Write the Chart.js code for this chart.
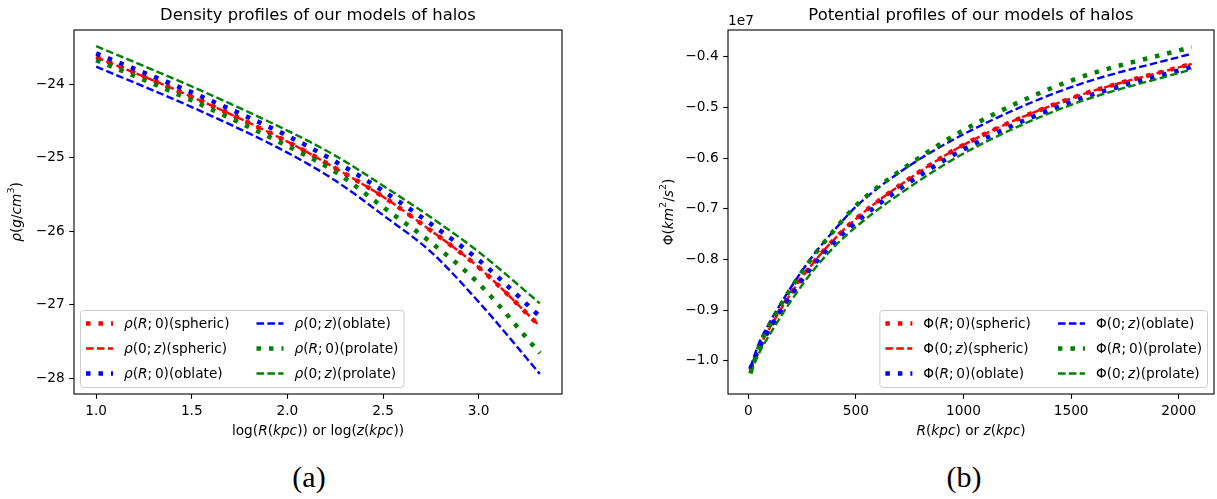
<!DOCTYPE html>
<html>
<head>
<meta charset="utf-8">
<script src="https://cdn.jsdelivr.net/npm/chart.js@4.4.1/dist/chart.umd.min.js"></script>
<style>
  body { margin: 0; width: 1217px; height: 499px; overflow: hidden; background: #fff; position: relative; }
  canvas { position: absolute; top: 0; }
  #densityChart { left: 0; }
  #potentialChart { left: 617px; }
  .sub { position: absolute; top: 460px; font-family: "Liberation Serif", serif; font-size: 30px; color: #000; transform: translateX(-50%); }
</style>
</head>
<body>
<canvas id="densityChart" width="600" height="450"></canvas>
<canvas id="potentialChart" width="600" height="450"></canvas>
<div class="sub" style="left:309px">(a)</div>
<div class="sub" style="left:964px">(b)</div>
<script>
// (a) density, x = log10(r / kpc)
var logR = [1.0, 1.5, 2.0, 2.25, 2.5, 2.75, 3.0, 3.32];
var rhoSpheric  = [-23.63, -24.17, -24.78, -25.14, -25.53, -25.99, -26.49, -27.29];
var rhoOblateR  = [-23.58, -24.11, -24.70, -25.05, -25.45, -25.90, -26.39, -27.16];
var rhoOblateZ  = [-23.76, -24.31, -24.93, -25.31, -25.78, -26.28, -26.96, -27.94];
var rhoProlateR = [-23.67, -24.22, -24.84, -25.19, -25.67, -26.15, -26.71, -27.66];
var rhoProlateZ = [-23.48, -24.03, -24.63, -24.97, -25.38, -25.81, -26.28, -26.98];

// (b) potential, x = r in kpc, values in units of 1e7 km^2/s^2
var radius = [10, 50, 100, 200, 300, 400, 500, 700, 1000, 1500, 2060];
var phiSpheric  = [-1.018, -0.975, -0.935, -0.866, -0.808, -0.760, -0.720, -0.655, -0.574, -0.482, -0.414];
var phiOblateR  = [-1.016, -0.975, -0.937, -0.870, -0.813, -0.766, -0.727, -0.662, -0.583, -0.489, -0.420];
var phiOblateZ  = [-1.013, -0.965, -0.924, -0.854, -0.793, -0.742, -0.696, -0.629, -0.553, -0.460, -0.394];
var phiProlateR = [-1.025, -0.972, -0.928, -0.856, -0.795, -0.742, -0.694, -0.627, -0.545, -0.447, -0.381];
var phiProlateZ = [-1.025, -0.985, -0.948, -0.881, -0.823, -0.775, -0.736, -0.672, -0.591, -0.495, -0.425];

var densityTicksX = [1.0, 1.5, 2.0, 2.5, 3.0];
var densityTicksY = [-28, -27, -26, -25, -24];
var potentialTicksX = [0, 500, 1000, 1500, 2000];
var potentialTicksY = [-1.0, -0.9, -0.8, -0.7, -0.6, -0.5, -0.4];

// _text_ marks italic (math) parts, ^x raises the next character
var densityLabels = ['_ρ_(_R_;\u20090)(spheric)', '_ρ_(0;\u2009_z_)(spheric)', '_ρ_(_R_;\u20090)(oblate)',
                     '_ρ_(0;\u2009_z_)(oblate)', '_ρ_(_R_;\u20090)(prolate)', '_ρ_(0;\u2009_z_)(prolate)'];
var potentialLabels = ['Φ(_R_;\u20090)(spheric)', 'Φ(0;\u2009_z_)(spheric)', 'Φ(_R_;\u20090)(oblate)',
                       'Φ(0;\u2009_z_)(oblate)', 'Φ(_R_;\u20090)(prolate)', 'Φ(0;\u2009_z_)(prolate)'];
var seriesColors = ['#ff0000', '#ff0000', '#0000ff', '#0000ff', '#008000', '#008000'];
var seriesStyles = ['dotted', 'dashed', 'dotted', 'dashed', 'dotted', 'dashed'];

var FONT = '"DejaVu Sans"';
var FS = 13.7;
Chart.defaults.font.family = 'DejaVu Sans';

function richParts(s) {
  var parts = [], it = false, sup = false, buf = '';
  function push() { if (buf) { parts.push({t: buf, it: it, sup: sup}); } buf = ''; }
  for (var i = 0; i < s.length; i++) {
    var c = s[i];
    if (c === '_') { push(); it = !it; }
    else if (c === '^') { push(); sup = true; buf = s[++i]; push(); sup = false; }
    else { buf += c; }
  }
  push();
  return parts;
}
function setFont(ctx, p, size) {
  ctx.font = (p.it ? 'italic ' : '') + (p.sup ? size * 0.7 : size) + 'px ' + FONT;
}
function richWidth(ctx, s, size) {
  var w = 0;
  richParts(s).forEach(function(p) { setFont(ctx, p, size); w += ctx.measureText(p.t).width; });
  return w;
}
function drawRich(ctx, s, x, y, size) {
  ctx.textAlign = 'left';
  richParts(s).forEach(function(p) {
    setFont(ctx, p, size);
    ctx.fillText(p.t, x, p.sup ? y - size * 0.38 : y);
    x += ctx.measureText(p.t).width;
  });
}

function drawLegend(chart, side) {
  var ctx = chart.ctx, a = chart.chartArea;
  var sets = chart.data.datasets;
  var cols = [sets.slice(0, 3), sets.slice(3)];
  var colW = cols.map(function(c) {
    return Math.max.apply(null, c.map(function(d) { return richWidth(ctx, d.label, FS); }));
  });
  var handle = 27, hpad = 11, gap = 27, pad = 5.5;
  var boxW = pad * 2 + handle * 2 + hpad * 2 + colW[0] + colW[1] + gap;
  var boxH = 77;
  var x0 = side === 'left' ? a.left + 6.5 : a.right - 6.5 - boxW;
  var y0 = a.bottom - 6.5 - boxH;
  ctx.beginPath();
  ctx.roundRect(x0, y0, boxW, boxH, 3);
  ctx.fillStyle = 'rgba(255,255,255,0.8)';
  ctx.fill();
  ctx.strokeStyle = '#cccccc';
  ctx.lineWidth = 1;
  ctx.stroke();
  var cx = x0 + pad;
  cols.forEach(function(c, ci) {
    c.forEach(function(d, ri) {
      var y = y0 + 13 + ri * 25;
      ctx.save();
      ctx.strokeStyle = d.borderColor;
      ctx.lineWidth = d.borderWidth;
      ctx.lineCap = 'butt';
      ctx.setLineDash(d.borderDash);
      ctx.beginPath();
      ctx.moveTo(cx, y);
      ctx.lineTo(cx + handle, y);
      ctx.stroke();
      ctx.restore();
      ctx.fillStyle = '#000';
      ctx.textBaseline = 'middle';
      drawRich(ctx, d.label, cx + handle + hpad, y + 1, FS);
    });
    cx += handle + hpad + colW[ci] + gap;
  });
}

var panelPlugin = {
  id: 'panel',
  afterDraw: function(chart) {
    var o = chart.options.plugins.panel;
    var ctx = chart.ctx, a = chart.chartArea;
    ctx.save();
    ctx.strokeStyle = '#000';
    ctx.lineWidth = 1.1;
    ctx.strokeRect(a.left, a.top, a.right - a.left, a.bottom - a.top);

    ctx.fillStyle = '#000';
    ctx.textBaseline = 'alphabetic';
    ctx.font = '16.4px ' + FONT;
    ctx.textAlign = 'center';
    ctx.fillText(o.title, (a.left + a.right) / 2, a.top - 10);

    if (o.offsetText) {
      ctx.font = FS + 'px ' + FONT;
      ctx.textAlign = 'left';
      ctx.fillText(o.offsetText, a.left, a.top - 5);
    }

    var w = richWidth(ctx, o.xTitle, FS);
    drawRich(ctx, o.xTitle, (a.left + a.right) / 2 - w / 2, 435, FS);

    ctx.save();
    ctx.translate(o.yTitleX, (a.top + a.bottom) / 2);
    ctx.rotate(-Math.PI / 2);
    ctx.textBaseline = 'middle';
    w = richWidth(ctx, o.yTitle, FS);
    drawRich(ctx, o.yTitle, -w / 2, 0, FS);
    ctx.restore();

    drawLegend(chart, o.legendSide);
    ctx.restore();
  }
};

function fmt(decimals) {
  return function(v) { return v.toFixed(decimals).replace('-', '\u2212'); };
}

function axis(min, max, ticks, decimals, isX, size) {
  return {
    type: 'linear',
    min: min,
    max: max,
    afterBuildTicks: function(s) { s.ticks = ticks.map(function(v) { return {value: v}; }); },
    afterFit: function(s) { if (isX) { s.height = size; } else { s.width = size; } },
    grid: { display: true, drawOnChartArea: false, drawTicks: true, tickLength: 4.8, tickWidth: 1.1, tickColor: '#000' },
    border: { display: false },
    ticks: { color: '#000', font: { family: 'DejaVu Sans', size: FS }, padding: 4.6,
             maxRotation: 0, autoSkip: false, callback: fmt(decimals) }
  };
}

function buildDatasets(xs, series, labels) {
  return series.map(function(ys, i) {
    var dotted = seriesStyles[i] === 'dotted';
    return {
      label: labels[i],
      data: xs.map(function(x, j) { return {x: x, y: ys[j]}; }),
      borderColor: seriesColors[i],
      backgroundColor: seriesColors[i],
      borderWidth: dotted ? 4.5 : 2.4,
      borderDash: dotted ? [4.5, 8] : [7.6, 3.3],
      borderCapStyle: 'butt',
      pointRadius: 0,
      fill: false,
      cubicInterpolationMode: 'monotone',
      order: series.length - 1 - i
    };
  });
}

new Chart(document.getElementById('densityChart'), {
  type: 'line',
  data: {
    datasets: buildDatasets(logR,
      [rhoSpheric, rhoSpheric, rhoOblateR, rhoOblateZ, rhoProlateR, rhoProlateZ], densityLabels)
  },
  options: {
    responsive: false,
    animation: false,
    layout: { padding: { left: 0, right: 38, top: 30, bottom: 26 } },
    scales: {
      x: axis(0.884, 3.436, densityTicksX, 1, true, 30),
      y: axis(-28.214, -23.261, densityTicksY, 0, false, 74)
    },
    plugins: {
      legend: { display: false },
      tooltip: { enabled: false },
      panel: {
        title: 'Density profiles of our models of halos',
        xTitle: 'log(_R_(_kpc_)) or log(_z_(_kpc_))',
        yTitle: '_ρ_(_g_/_cm_^3)',
        yTitleX: 17,
        legendSide: 'left'
      }
    }
  },
  plugins: [panelPlugin]
});

new Chart(document.getElementById('potentialChart'), {
  type: 'line',
  data: {
    datasets: buildDatasets(radius,
      [phiSpheric, phiSpheric, phiOblateR, phiOblateZ, phiProlateR, phiProlateZ], potentialLabels)
  },
  options: {
    responsive: false,
    animation: false,
    layout: { padding: { left: 0, right: 3, top: 30, bottom: 26 } },
    scales: {
      x: axis(-94.3, 2163.6, potentialTicksX, 0, true, 30),
      y: axis(-1.0657, -0.3473, potentialTicksY, 1, false, 111)
    },
    plugins: {
      legend: { display: false },
      tooltip: { enabled: false },
      panel: {
        title: 'Potential profiles of our models of halos',
        xTitle: '_R_(_kpc_) or _z_(_kpc_)',
        yTitle: 'Φ(_km_^2/_s_^2)',
        yTitleX: 52,
        offsetText: '1e7',
        legendSide: 'right'
      }
    }
  },
  plugins: [panelPlugin]
});
</script>
</body>
</html>
